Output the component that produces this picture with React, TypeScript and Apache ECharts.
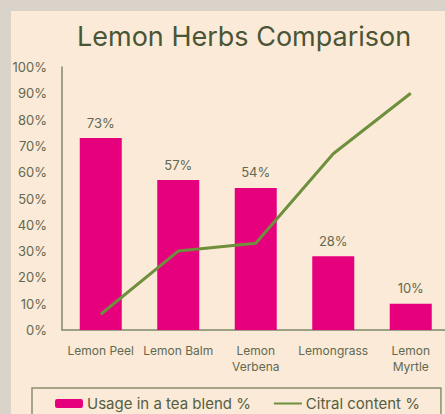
import React, { useEffect, useRef } from "react";
import * as echarts from "echarts";

const categories = ["Lemon Peel", "Lemon Balm", "Lemon\nVerbena", "Lemongrass", "Lemon\nMyrtle"];
const usage = [73, 57, 54, 28, 10];
const citral = [6, 30, 33, 67, 90];
const yTicks = { min: 0, max: 100, interval: 10 };

const FONT = "Inter, 'Open Sans', sans-serif";
const TEXT = "#62694f";

export default function App() {
  const ref = useRef<HTMLDivElement>(null);
  useEffect(() => {
    document.body.style.margin = "0";
    document.body.style.overflow = "hidden";
    document.documentElement.style.overflow = "hidden";
    const chart = echarts.init(ref.current!, undefined, { renderer: "svg" });
    chart.setOption({
      animation: false,
      backgroundColor: "#d9d3c9",
      textStyle: { fontFamily: FONT },
      graphic: [
        {
          type: "rect",
          shape: { x: 11, y: 11, width: 450, height: 410 },
          style: { fill: "#fbead8" },
          z: -10,
        },
      ],
      title: {
        text: "Lemon Herbs Comparison",
        left: 72,
        top: 18,
        textStyle: { fontFamily: FONT, fontSize: 27, fontWeight: "normal", color: "#4a5535" },
      },
      legend: {
        left: 32,
        top: 388,
        padding: [8, 21, 10, 23],
        itemGap: 22,
        itemWidth: 28,
        itemHeight: 9,
        borderColor: "#8a8f6e",
        borderWidth: 1.5,
        textStyle: { fontFamily: FONT, fontSize: 15, color: "#55603f", padding: [0, 0, 0, -1] },
        data: [
          { name: "Usage in a tea blend %" },
          { name: "Citral content %", itemStyle: { opacity: 0 } },
        ],
      },
      grid: { left: 62, top: 67, width: 387.5, height: 263, containLabel: false },
      xAxis: {
        type: "category",
        data: categories,
        axisLine: { lineStyle: { color: "#7f8967", width: 1.5 } },
        axisTick: { show: false },
        axisLabel: { color: TEXT, fontSize: 12, margin: 12, lineHeight: 16, interval: 0 },
      },
      yAxis: {
        type: "value",
        min: yTicks.min,
        max: yTicks.max,
        interval: yTicks.interval,
        axisLine: { show: true, lineStyle: { color: "#7f8967", width: 1.5 } },
        axisTick: { show: false },
        splitLine: { show: false },
        axisLabel: { color: TEXT, fontSize: 13, margin: 15, formatter: "{value}%" },
      },
      series: [
        {
          name: "Usage in a tea blend %",
          type: "bar",
          data: usage,
          barWidth: 42,
          itemStyle: { color: "#e6007e" },
          label: {
            show: true,
            position: "top",
            distance: 9,
            formatter: "{c}%",
            color: TEXT,
            fontSize: 13,
          },
        },
        {
          name: "Citral content %",
          type: "line",
          data: citral,
          symbol: "none",
          lineStyle: { color: "#6e8f3b", width: 3 },
          itemStyle: { color: "#6e8f3b" },
        },
      ],
    });
    return () => chart.dispose();
  }, []);
  return <div ref={ref} style={{ width: 450, height: 414 }} />;
}
